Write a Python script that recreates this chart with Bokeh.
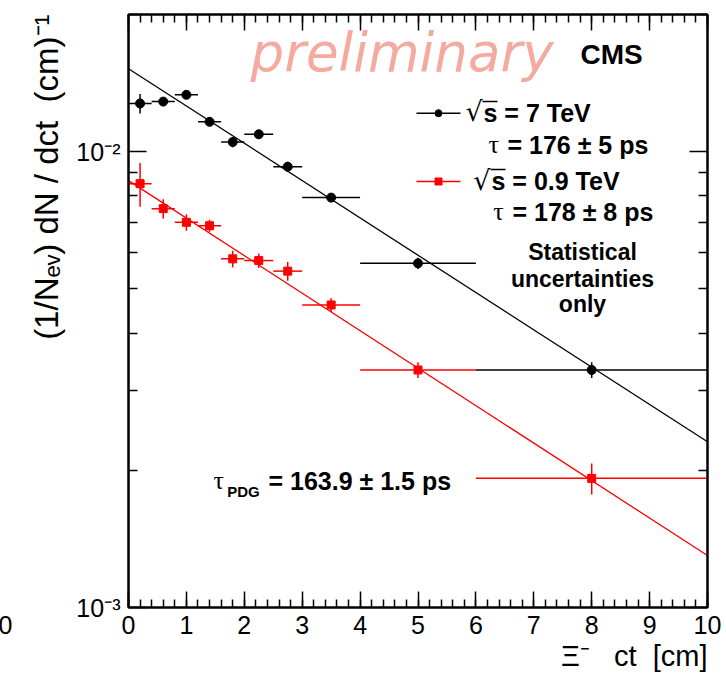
import numpy as np
from math import log10
from bokeh.plotting import figure
from bokeh.models import (Range1d, FixedTicker, SingleIntervalTicker, LinearAxis,
                          LogAxis, Label, ColumnDataSource, CustomJSTickFormatter, Title)
from bokeh.embed import file_html
from bokeh.resources import INLINE

# ---------------- data ----------------
bin_centers = [0.2, 0.6, 1.0, 1.4, 1.8, 2.25, 2.75, 3.5, 5.0, 8.0]
bin_half_widths = [0.2, 0.2, 0.2, 0.2, 0.2, 0.25, 0.25, 0.5, 1.0, 2.0]

y_7tev = [0.01276, 0.01288, 0.01333, 0.01163, 0.01050, 0.01092, 0.00927, 0.00793, 0.00569, 0.00332]
err_7tev = [0.00063, 0.00026, 0.00024, 0.00021, 0.00027, 0.00025, 0.00023, 0.00016, 0.00016, 0.00013]

y_09tev = [0.00851, 0.00750, 0.00700, 0.00688, 0.00582, 0.00577, 0.00547, 0.00461, 0.00332, 0.00192]
err_09tev = [0.00094, 0.00036, 0.00029, 0.00021, 0.00024, 0.00021, 0.00026, 0.00016, 0.00013, 0.00015]

fit_x = [0.0, 10.0]
fit_7tev = [0.01521, 0.00231]
fit_09tev = [0.00864, 0.00130]

x_range_vals = [0, 10]
y_range_vals = [1e-3, 2e-2]
y_major_ticks = [1e-3, 1e-2]
y_minor_ticks = [2e-3, 3e-3, 4e-3, 5e-3, 6e-3, 7e-3, 8e-3, 9e-3, 2e-2]
y_tick_labels = ["10⁻³", "10⁻²"]

x_title = "Ξ⁻\u00a0\u00a0\u00a0ct\u00a0\u00a0[cm]"
y_title = "(1/Nₑᵥ) dN / dct\u00a0\u00a0(cm)⁻¹"

# ---------------- layout helpers ----------------
W, H = 726, 683
FL, FR, FT, FB = 128, 707, 14, 607
XMIN, XMAX = x_range_vals
YMIN, YMAX = y_range_vals


def dx(px):
    return XMIN + (px - FL) / (FR - FL) * (XMAX - XMIN)


def dy(py):
    return 10 ** (log10(YMIN) + (FB - py) / (FB - FT) * (log10(YMAX) - log10(YMIN)))


p = figure(width=W, height=H, x_range=Range1d(XMIN, XMAX), y_range=Range1d(YMIN, YMAX),
           y_axis_type="log", output_backend="svg", toolbar_location=None,
           min_border_left=FL, min_border_right=W - FR, min_border_top=FT,
           min_border_bottom=H - FB)
p.grid.visible = False
p.background_fill_color = "white"
p.border_fill_color = "white"
p.outline_line_color = "black"
p.outline_line_width = 2

blank = CustomJSTickFormatter(code="return ''")
FONT = "Liberation Sans"


def style_axis(ax, major_in, minor_in):
    ax.major_tick_in = major_in
    ax.major_tick_out = 0
    ax.minor_tick_in = minor_in
    ax.minor_tick_out = 0
    ax.major_tick_line_width = 1.5
    ax.minor_tick_line_width = 1.5
    ax.major_tick_line_color = "black"
    ax.minor_tick_line_color = "black"
    ax.axis_line_width = 2
    ax.axis_line_color = "black"


xa = p.xaxis[0]
xa.ticker = SingleIntervalTicker(interval=1, num_minor_ticks=5)
style_axis(xa, 16, 8)
xa.major_label_text_font = FONT
xa.major_label_text_font_size = "25px"
xa.major_label_text_color = "black"
xa.major_label_standoff = 8

xtop = LinearAxis(ticker=SingleIntervalTicker(interval=1, num_minor_ticks=5), formatter=blank)
style_axis(xtop, 16, 8)
p.add_layout(xtop, "above")

ya = p.yaxis[0]
ya.ticker = FixedTicker(ticks=y_major_ticks, minor_ticks=y_minor_ticks)
ya.major_label_overrides = {t: s for t, s in zip(y_major_ticks, y_tick_labels)}
ya.major_label_text_font = FONT
ya.major_label_text_font_size = "25px"
ya.major_label_text_color = "black"
ya.major_label_standoff = 8
style_axis(ya, 18, 9)

yright = LogAxis(ticker=FixedTicker(ticks=y_major_ticks, minor_ticks=y_minor_ticks), formatter=blank)
style_axis(yright, 18, 9)
p.add_layout(yright, "right")

p.add_layout(Title(text=x_title, align="right", text_font=FONT, text_font_size="29px",
                   text_font_style="normal", text_color="black", standoff=3), "below")
p.add_layout(Title(text=y_title, align="right", text_font=FONT, text_font_size="33px",
                   text_font_style="normal", text_color="black", standoff=17), "left")

# ---------------- data glyphs ----------------
def series(yv, ev, color, marker, size):
    x = np.array(bin_centers)
    hw = np.array(bin_half_widths)
    y = np.array(yv)
    e = np.array(ev)
    src = ColumnDataSource(dict(x=x, y=y, xl=x - hw, xr=x + hw, yl=y - e, yh=y + e))
    p.segment(x0="xl", y0="y", x1="xr", y1="y", source=src, line_color=color, line_width=1.5)
    p.segment(x0="x", y0="yl", x1="x", y1="yh", source=src, line_color=color, line_width=1.5)
    p.scatter(x="x", y="y", source=src, marker=marker, size=size,
              fill_color=color, line_color=color)


p.line(fit_x, fit_7tev, line_color="black", line_width=1.3)
p.line(fit_x, fit_09tev, line_color="red", line_width=1.3)
series(y_7tev, err_7tev, "black", "circle", 9)
series(y_09tev, err_09tev, "red", "square", 8)

BASE_SHIFT = 0.38   # label anchor sits this many em above the glyph baseline


def make_label(text, px, py, size, bold=False, align="left", color="black", font=FONT,
               italic=False):
    st = "normal"
    if bold and italic:
        st = "bold italic"
    elif bold:
        st = "bold"
    elif italic:
        st = "italic"
    return Label(x=dx(px), y=dy(py - BASE_SHIFT * size), text=text, text_font=font,
                 text_font_size=f"{size}px", text_font_style=st, text_align=align,
                 text_baseline="alphabetic", text_color=color)


def lab(*args, **kw):
    p.add_layout(make_label(*args, **kw))


def hline(px0, px1, py, color, width=1.5):
    p.segment(x0=[dx(px0)], y0=[dy(py)], x1=[dx(px1)], y1=[dy(py)], line_color=color,
              line_width=width)


# ---------------- legend (drawn by hand) ----------------
for py, color, marker in [(112.7, "black", "circle"), (181, "red", "square")]:
    hline(416, 460, py, color)
    p.scatter(x=[dx(438)], y=[dy(py)], marker=marker, size=7, fill_color=color, line_color=color)

lab("√", 465, 121.7, 27, font="DejaVu Sans")
hline(482, 497, 101, "black", 1.6)
lab("s = 7 TeV", 483, 121.7, 25, bold=True)
lab("τ", 488, 154, 26, font="Liberation Serif")
lab("= 176 ± 5 ps", 507, 154, 25, bold=True)

lab("√", 472.7, 190, 27, font="DejaVu Sans")
hline(490, 505, 169, "black", 1.6)
lab("s = 0.9 TeV", 491, 190, 25, bold=True)
lab("τ", 492.7, 220.7, 26, font="Liberation Serif")
lab("= 178 ± 8 ps", 512, 220.7, 25, bold=True)

lab("Statistical", 582, 260.7, 23, bold=True, align="center")
lab("uncertainties", 582, 287.3, 23, bold=True, align="center")
lab("only", 582, 312.7, 23, bold=True, align="center")

lab("CMS", 580, 65, 28, bold=True)
lab("preliminary", 250, 72, 53, italic=True, color="#f5aaa0", font="DejaVu Sans")

lab("τ", 213, 490, 26, font="Liberation Serif")
lab("PDG", 226.7, 497, 15, bold=True)
lab("= 163.9 ± 1.5 ps", 268, 490, 25, bold=True)

# tick label of the neighbouring pad, seen at the far left edge of the canvas;
# placed in the (roomy) left border panel so that it is not clipped by the frame
p.add_layout(make_label("0", 12, 634, 25, align="right"), "left")

open("out.html", "w").write(file_html(p, INLINE))
